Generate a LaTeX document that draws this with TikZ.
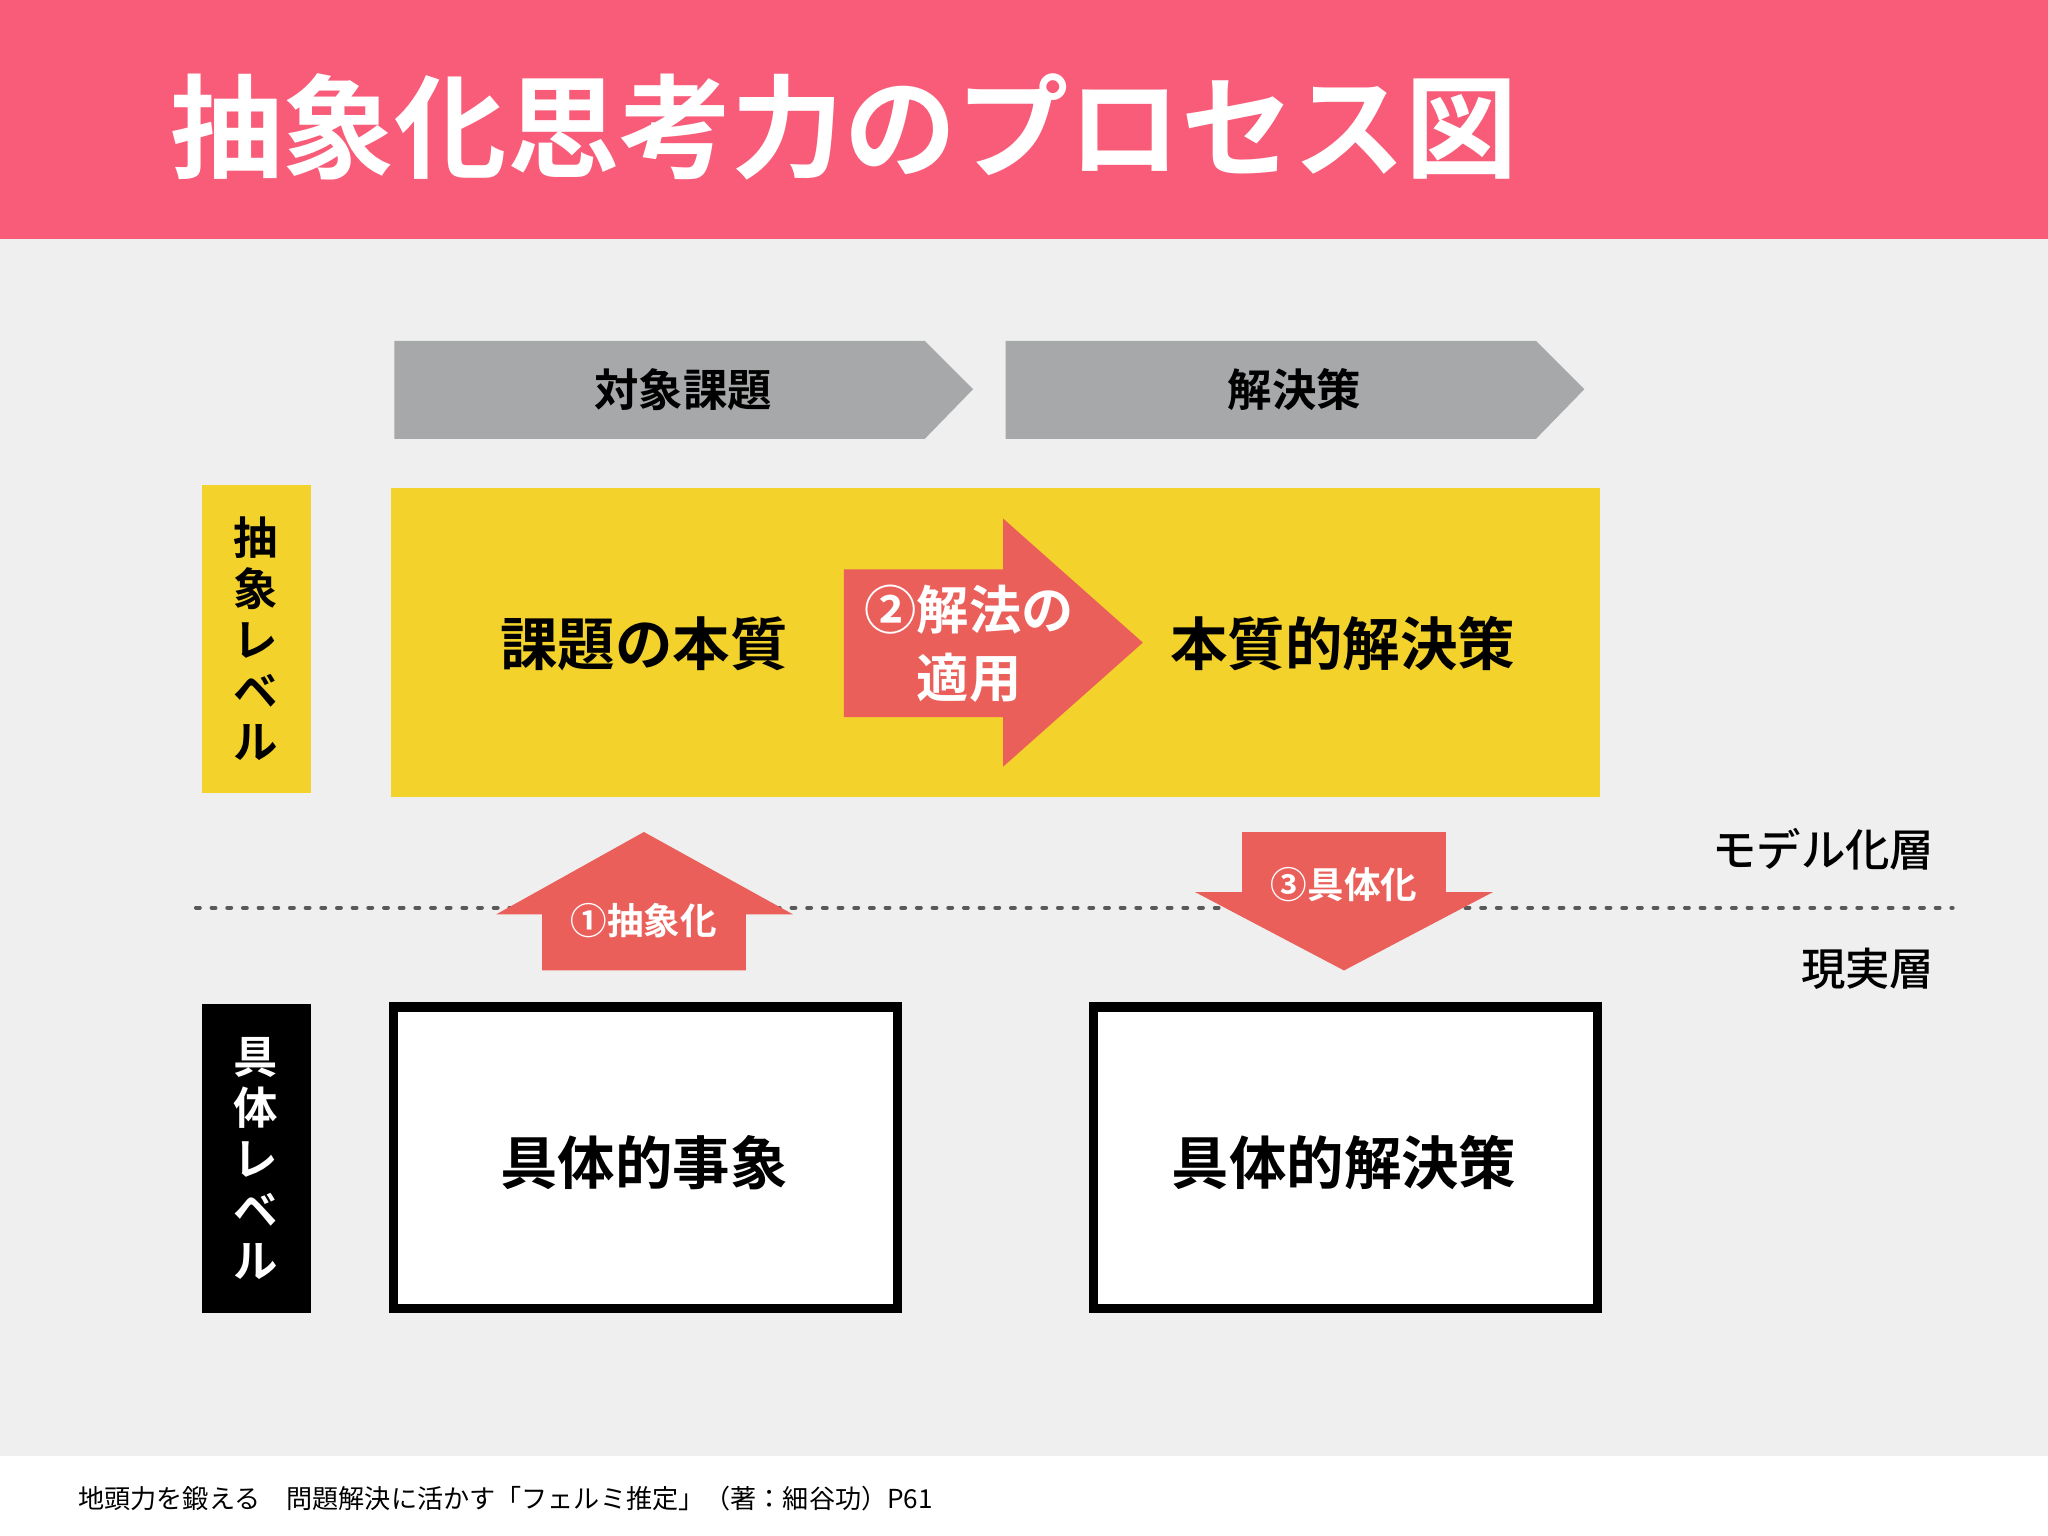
\documentclass[tikz,border=0pt]{standalone}
\usepackage{fontspec}
\setmainfont{Noto Sans CJK JP}
\newfontfamily\cjkb{Noto Sans CJK JP Bold}
\newfontfamily\cjkm{Noto Sans CJK JP Medium}
\definecolor{pinkh}{HTML}{F85C78}
\definecolor{bgg}{HTML}{EFEFEF}
\definecolor{chev}{HTML}{A6A8AA}
\definecolor{yel}{HTML}{F4D22C}
\definecolor{redar}{HTML}{EA5F5A}
\begin{document}
\begin{tikzpicture}[x=0.5pt,y=-0.5pt,
  lbl/.style={font=\cjkb\fontsize{22}{26}\selectfont,align=center},
  vlbl/.style={font=\cjkb\fontsize{17}{19.5}\selectfont,align=center},
  wtxt/.style={text=white,font=\cjkb\fontsize{14}{16}\selectfont,align=center},
  layer/.style={font=\cjkm\fontsize{17}{20}\selectfont,anchor=east}]
\useasboundingbox (0,0) rectangle (1568,1176);
\fill[bgg] (0,0) rectangle (1568,1176);
\fill[white] (0,1115) rectangle (1568,1176);
\fill[pinkh] (0,0) rectangle (1568,183);
\node[anchor=west,text=white,font=\cjkb\fontsize{43}{48}\selectfont,inner sep=0] (title) at (130,97) {抽象化思考力のプロセス図};
% chevrons
\fill[chev] (302,261) -- (708,261) -- (745,298) -- (708,336) -- (302,336) -- cycle;
\fill[chev] (770,261) -- (1176,261) -- (1213,298) -- (1176,336) -- (770,336) -- cycle;
\node[font=\cjkb\fontsize{17}{20}\selectfont] (c1) at (523,298) {対象課題};
\node[font=\cjkb\fontsize{17}{20}\selectfont] (c2) at (991,298) {解決策};
% yellow
\fill[yel] (299,374) rectangle (1225,610);
\node[lbl] (essence) at (493,493) {課題の本質};
\node[lbl] (esol) at (1028,493) {本質的解決策};
\fill[redar] (646,436) -- (768,436) -- (768,397) -- (875,492) -- (768,587) -- (768,549) -- (646,549) -- cycle;
\node[text=white,font=\cjkb\fontsize{20}{26}\selectfont,align=center] (apply) at (742,493) {②解法の\\適用};
% side labels
\fill[yel] (155,371) rectangle (238,607);
\node[vlbl] (abs) at (196,489) {抽\\象\\レ\\ベ\\ル};
\fill[black] (155,769) rectangle (238,1005);
\node[vlbl,text=white] (con) at (196,887) {具\\体\\レ\\ベ\\ル};
% dotted line
\coordinate (dl) at (150,695);
\coordinate (dr) at (1495,695);
\draw[gray!70!black,line width=1.5pt,dash pattern=on 1.5pt off 4.5pt,line cap=round] (dl) -- (dr);
% up arrow
\fill[redar] (415,743) -- (415,700) -- (380,700) -- (493,637) -- (607,700) -- (571,700) -- (571,743) -- cycle;
\node[wtxt] (a1) at (493,705) {①抽象化};
% down arrow
\fill[redar] (951,637) -- (1107,637) -- (1107,683) -- (1143,683) -- (1029,743) -- (915,683) -- (951,683) -- cycle;
\node[wtxt] (a3) at (1029,677) {③具体化};
\node[layer] (m) at (1488,650) {モデル化層};
\node[layer] (r) at (1488,742) {現実層};
% white boxes
\draw[line width=3.5pt,fill=white] (301,771) rectangle (687,1002);
\draw[line width=3.5pt,fill=white] (837,771) rectangle (1223,1002);
\node[lbl] (ev) at (493,890) {具体的事象};
\node[lbl] (sol) at (1029,890) {具体的解決策};
\node[anchor=west,font=\fontsize{10}{12}\selectfont] (foot) at (53,1147) {地頭力を鍛える\quad 問題解決に活かす「フェルミ推定」（著：細谷功）P61};
\end{tikzpicture}
\end{document}
